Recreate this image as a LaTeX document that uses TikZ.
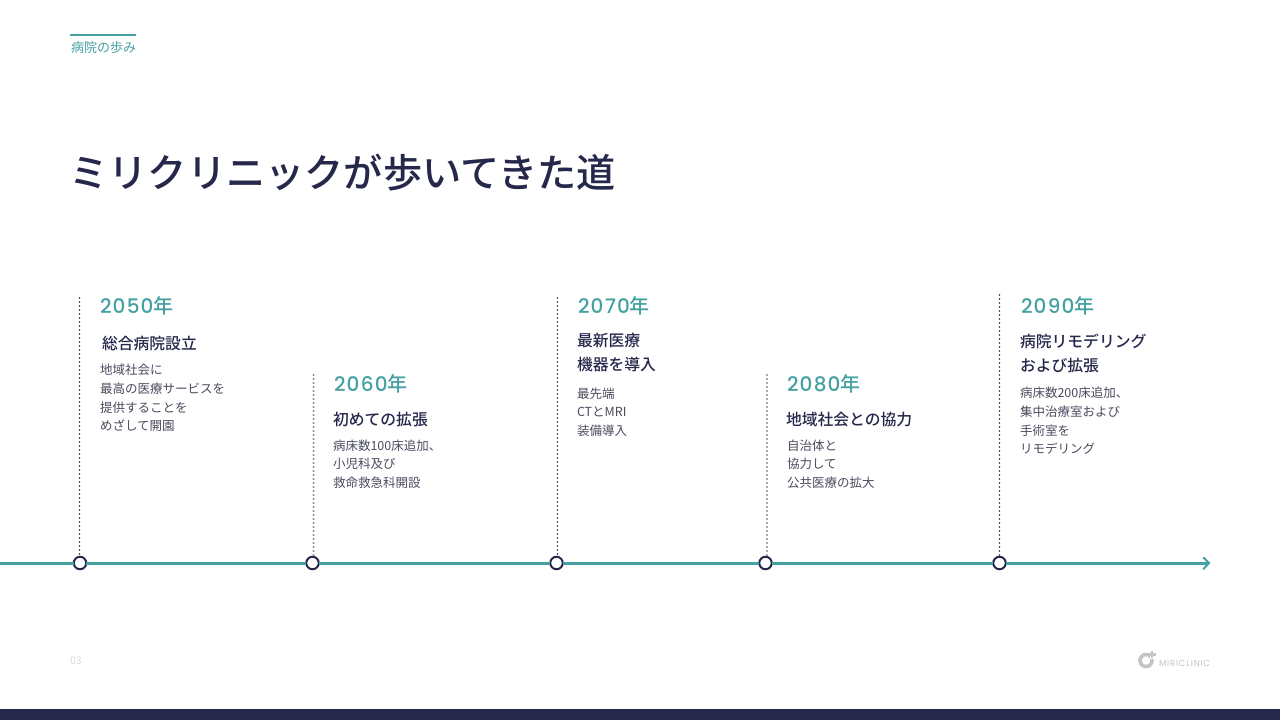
\documentclass[tikz,border=0pt]{standalone}
\usepackage{fontspec}
\setmainfont{Noto Sans CJK JP}
\newfontfamily\medjp{Noto Sans CJK JP Medium}
\newfontfamily\yrfont[LetterSpace=6]{Poppins Medium}
\newfontfamily\logofont[LetterSpace=9]{Poppins}
\newcommand{\yrlabel}[1]{{\yrfont #1}年}
\definecolor{teal1}{HTML}{45A0A1}
\definecolor{navy}{HTML}{25284A}
\definecolor{bodyc}{HTML}{4A4C5E}
\definecolor{logoc}{HTML}{C4C4C6}
\tikzset{
 x=1pt,y=-1pt,
 every node/.style={inner sep=0pt,outer sep=0pt,anchor=west},
 yeartext/.style={font=\medjp\fontsize{20}{20}\selectfont,text=teal1},
 headtext/.style={font=\medjp\fontsize{15.8}{24}\selectfont,text=navy,align=left},
 bodytext/.style={font=\fontsize{12.5}{18.7}\selectfont,text=bodyc,align=left},
 stem/.style={draw=navy,line width=1.9pt,line cap=round,dash pattern=on 0pt off 4pt},
 stemgray/.style={draw=navy!55,line width=2.1pt,line cap=round,dash pattern=on 0pt off 4pt},
 axisline/.style={draw=teal1,line width=3pt},
 milestone/.style={anchor=center,circle,draw=navy,fill=white,line width=2pt,minimum size=12.5pt},
}
\begin{document}
\begin{tikzpicture}
\useasboundingbox (0,0) rectangle (1280,720);
\fill[white] (0,0) rectangle (1280,720);
\fill[navy] (0,709) rectangle (1280,720);
% header
\fill[teal1] (70,34) rectangle (136,36);
\node[font=\fontsize{13}{13}\selectfont,text=teal1] (tag) at (71,47.5) {病院の歩み};
\node[font=\medjp\fontsize{39.2}{39}\selectfont,text=navy] (title) at (69.5,173) {ミリクリニックが歩いてきた道};
% axis
\coordinate (axstart) at (0,563);
\coordinate (axend) at (1209,563);
\node[milestone] (m1) at (80,563) {};
\node[milestone] (m2) at (312.5,563) {};
\node[milestone] (m3) at (556.5,563) {};
\node[milestone] (m4) at (765.5,563) {};
\node[milestone] (m5) at (999.5,563) {};
\coordinate (t1) at (79.5,298);
\coordinate (t2) at (313.5,375);
\coordinate (t3) at (557.5,298);
\coordinate (t4) at (767,375);
\coordinate (t5) at (999.5,295);
\draw[axisline] (axstart) -- (m1) (m1) -- (m2) (m2) -- (m3) (m3) -- (m4) (m4) -- (m5) (m5) -- (axend);
\coordinate (h1) at (1203.5,557.5);
\coordinate (h2) at (1203.5,569);
\draw[teal1,line width=2pt,line cap=round,line join=miter] (h1) -- (axend) -- (h2);
\draw[stem] (t1) -- (m1.north -| t1);
\draw[stemgray] (t2) -- (m2.north -| t2);
\draw[stem] (t3) -- (m3.north -| t3);
\draw[stemgray] (t4) -- (m4.north -| t4);
\draw[stem] (t5) -- (m5.north -| t5);
% 2050
\node[yeartext] (y1) at (100,305.5) {\yrlabel{2050}};
\node[headtext] (k1) at (102,343.5) {総合病院設立};
\node[bodytext] (b1) at (100,398) {地域社会に\\最高の医療サービスを\\提供することを\\めざして開園};
% 2060
\node[yeartext] (y2) at (334,383.5) {\yrlabel{2060}};
\node[headtext] (k2) at (333,419.5) {初めての拡張};
\node[bodytext] (b2) at (333,464) {病床数100床追加、\\小児科及び\\救命救急科開設};
% 2070
\node[yeartext] (y3) at (578,305.5) {\yrlabel{2070}};
\node[headtext] (k3) at (577,353) {最新医療\\機器を導入};
\node[bodytext] (b3) at (577,412) {最先端\\CTとMRI\\装備導入};
% 2080
\node[yeartext] (y4) at (787,383.5) {\yrlabel{2080}};
\node[headtext] (k4) at (786,419.5) {地域社会との協力};
\node[bodytext] (b4) at (787,464) {自治体と\\協力して\\公共医療の拡大};
% 2090
\node[yeartext] (y5) at (1021,305.5) {\yrlabel{2090}};
\node[headtext] (k5) at (1020,353) {病院リモデリング\\および拡張};
\node[bodytext] (b5) at (1020,421) {病床数200床追加、\\集中治療室および\\手術室を\\リモデリング};
% footer
\node[font=\fontsize{10.5}{10.5}\selectfont,text=black!15] (pg) at (70,660.5) {03};
\draw[logoc,line width=3.6pt] (1146,660.5) circle (6pt);
\fill[white] (1150,650) rectangle (1157,659);
\draw[logoc,line width=2.4pt] (1148,654.5) -- (1156,654.5) (1152,651) -- (1152,658);
\node[font=\logofont\fontsize{8.6}{8.6}\selectfont,text=logoc] (logo) at (1159,663) {MIRICLINIC};
\end{tikzpicture}
\end{document}
